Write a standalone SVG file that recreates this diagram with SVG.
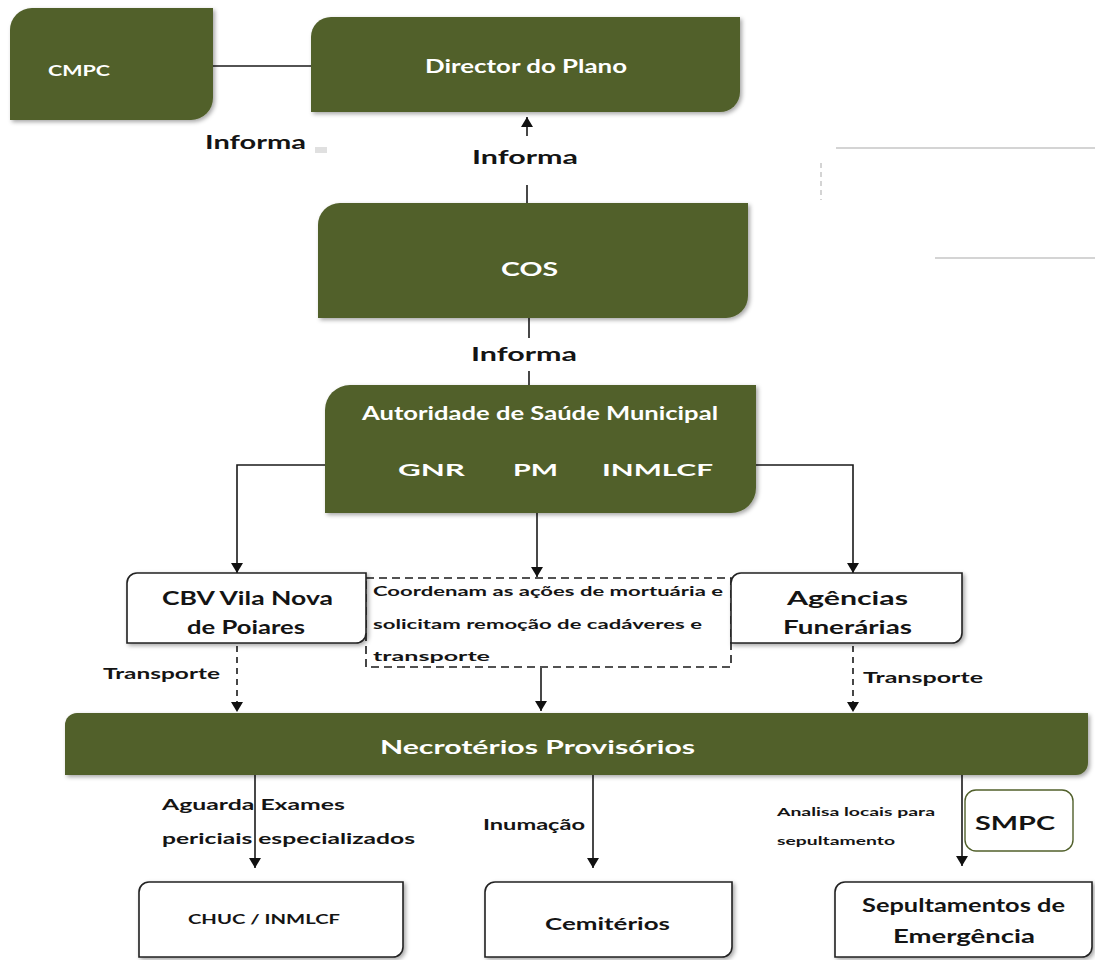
<svg xmlns="http://www.w3.org/2000/svg" width="1095" height="960" viewBox="0 0 1095 960">
  <defs>
    <filter id="shadow" x="-5%" y="-10%" width="110%" height="125%">
      <feDropShadow dx="2" dy="2" stdDeviation="2" flood-color="#000" flood-opacity="0.35"/>
    </filter>
    <marker id="arrow" viewBox="0 0 10 12" refX="10" refY="6" markerWidth="10" markerHeight="12" markerUnits="userSpaceOnUse" orient="auto">
      <path d="M0,0 L10,6 L0,12 Z" fill="#111"/>
    </marker>
  </defs>
  <style>
    .green { fill: #51602b; filter: url(#shadow); }
    .white { fill: #ffffff; stroke: #222; stroke-width: 1.6; filter: url(#shadow); }
    .wt { fill: #ffffff; font-family: Lato, "Open Sans", sans-serif; font-weight: bold; }
    .dk { fill: #141414; font-family: Lato, "Open Sans", sans-serif; font-weight: bold; }
    .ln { stroke: #1a1a1a; stroke-width: 1.6; fill: none; }
    .dash { stroke: #1a1a1a; stroke-width: 1.6; fill: none; stroke-dasharray: 6 5; }
    .faint { stroke: #d4d4d4; stroke-width: 2; fill: none; }
  </style>

  <rect width="1095" height="960" fill="#ffffff"/>

  <!-- faint rules on the right -->
  <g id="rules">
    <line class="faint" x1="836" y1="148" x2="1095" y2="148"/>
    <line class="faint" x1="821" y1="163" x2="821" y2="200" stroke-dasharray="5 4" stroke-width="1"/>
    <line class="faint" x1="935" y1="258" x2="1095" y2="258"/>
    <rect x="315" y="147" width="12" height="6" fill="#e0e0e0"/>
  </g>

  <!-- connectors -->
  <g id="connectors">
    <line class="ln" x1="213" y1="66" x2="311" y2="66"/>
    <line class="ln" x1="527" y1="136" x2="527" y2="117" marker-end="url(#arrow)"/>
    <line class="ln" x1="527" y1="185" x2="527" y2="203"/>
    <line class="ln" x1="529" y1="318" x2="529" y2="338"/>
    <line class="ln" x1="529" y1="371" x2="529" y2="385"/>
    <polyline class="ln" points="325,465 237,465 237,573" marker-end="url(#arrow)"/>
    <line class="ln" x1="537" y1="513" x2="537" y2="577" marker-end="url(#arrow)"/>
    <polyline class="ln" points="756,465 853,465 853,573" marker-end="url(#arrow)"/>
    <line class="dash" x1="237" y1="646" x2="237" y2="712" marker-end="url(#arrow)"/>
    <line class="ln" x1="541" y1="668" x2="541" y2="711" marker-end="url(#arrow)"/>
    <line class="dash" x1="853" y1="646" x2="853" y2="712" marker-end="url(#arrow)"/>
    <line class="ln" x1="255" y1="775" x2="255" y2="868" marker-end="url(#arrow)"/>
    <line class="ln" x1="593" y1="775" x2="593" y2="868" marker-end="url(#arrow)"/>
    <line class="ln" x1="962" y1="775" x2="962" y2="866" marker-end="url(#arrow)"/>
  </g>

  <!-- connector labels -->
  <g id="labels">
    <text class="dk" x="205" y="149" font-size="19" textLength="101" lengthAdjust="spacingAndGlyphs">Informa</text>
    <text class="dk" x="472" y="164" font-size="19" textLength="106" lengthAdjust="spacingAndGlyphs">Informa</text>
    <text class="dk" x="471" y="361" font-size="19" textLength="106" lengthAdjust="spacingAndGlyphs">Informa</text>
    <text class="dk" x="103" y="679" font-size="16" textLength="117" lengthAdjust="spacingAndGlyphs">Transporte</text>
    <text class="dk" x="863" y="683" font-size="16" textLength="120" lengthAdjust="spacingAndGlyphs">Transporte</text>
    <text class="dk" x="162" y="810" font-size="16" textLength="183" lengthAdjust="spacingAndGlyphs">Aguarda Exames</text>
    <text class="dk" x="162" y="844" font-size="16" textLength="253" lengthAdjust="spacingAndGlyphs">periciais especializados</text>
    <text class="dk" x="483" y="830" font-size="16" textLength="102" lengthAdjust="spacingAndGlyphs">Inumação</text>
    <text class="dk" x="777" y="816" font-size="12" textLength="158" lengthAdjust="spacingAndGlyphs">Analisa locais para</text>
    <text class="dk" x="777" y="845" font-size="12" textLength="118" lengthAdjust="spacingAndGlyphs">sepultamento</text>
  </g>

  <!-- green nodes -->
  <g id="cmpc">
    <path class="green" d="M10,30 A22,22 0 0 1 32,8 H213 V98 A22,22 0 0 1 191,120 H10 Z"/>
    <text class="wt" x="48" y="76" font-size="15" textLength="62" lengthAdjust="spacingAndGlyphs">CMPC</text>
  </g>
  <g id="director">
    <path class="green" d="M311,37 A20,20 0 0 1 331,17 H740 V92 A20,20 0 0 1 720,112 H311 Z"/>
    <text class="wt" x="425" y="73" font-size="18" textLength="202" lengthAdjust="spacingAndGlyphs">Director do Plano</text>
  </g>
  <g id="cos">
    <path class="green" d="M318,225 A22,22 0 0 1 340,203 H748 V296 A22,22 0 0 1 726,318 H318 Z"/>
    <text class="wt" x="501" y="276" font-size="18" textLength="57" lengthAdjust="spacingAndGlyphs">COS</text>
  </g>
  <g id="autoridade">
    <path class="green" d="M325,410 A25,25 0 0 1 350,385 H756 V488 A25,25 0 0 1 731,513 H325 Z"/>
    <text class="wt" x="362" y="420" font-size="18" textLength="356" lengthAdjust="spacingAndGlyphs">Autoridade de Saúde Municipal</text>
    <text class="wt" x="398" y="476" font-size="17" textLength="67" lengthAdjust="spacingAndGlyphs">GNR</text>
    <text class="wt" x="513" y="476" font-size="17" textLength="45" lengthAdjust="spacingAndGlyphs">PM</text>
    <text class="wt" x="602" y="476" font-size="17" textLength="111" lengthAdjust="spacingAndGlyphs">INMLCF</text>
  </g>
  <g id="necroterios">
    <path class="green" d="M65,725 A12,12 0 0 1 77,713 H1088 V763 A12,12 0 0 1 1076,775 H65 Z"/>
    <text class="wt" x="380" y="754" font-size="19" textLength="315" lengthAdjust="spacingAndGlyphs">Necrotérios Provisórios</text>
  </g>

  <!-- dashed coordination frame -->
  <g id="coordenam">
    <rect x="366" y="578" width="365" height="89" fill="#ffffff" stroke="#1a1a1a" stroke-width="1.6" stroke-dasharray="8 5"/>
    <text class="dk" x="373" y="596" font-size="13" textLength="350" lengthAdjust="spacingAndGlyphs">Coordenam as ações de mortuária e</text>
    <text class="dk" x="373" y="629" font-size="13" textLength="329" lengthAdjust="spacingAndGlyphs">solicitam remoção de cadáveres e</text>
    <text class="dk" x="373" y="661" font-size="13" textLength="117" lengthAdjust="spacingAndGlyphs">transporte</text>
  </g>

  <!-- white nodes -->
  <g id="cbv">
    <path class="white" d="M127,583 A10,10 0 0 1 137,573 H366 V633 A10,10 0 0 1 356,643 H127 Z"/>
    <text class="dk" x="162" y="605" font-size="18" textLength="171" lengthAdjust="spacingAndGlyphs">CBV Vila Nova</text>
    <text class="dk" x="187" y="634" font-size="18" textLength="118" lengthAdjust="spacingAndGlyphs">de Poiares</text>
  </g>
  <g id="agencias">
    <path class="white" d="M731,583 A10,10 0 0 1 741,573 H962 V633 A10,10 0 0 1 952,643 H731 Z"/>
    <text class="dk" x="787" y="605" font-size="18" textLength="121" lengthAdjust="spacingAndGlyphs">Agências</text>
    <text class="dk" x="783" y="634" font-size="18" textLength="129" lengthAdjust="spacingAndGlyphs">Funerárias</text>
  </g>
  <g id="smpc">
    <rect x="965" y="790" width="108" height="61" rx="11" fill="#ffffff" stroke="#51602b" stroke-width="1.4"/>
    <text class="dk" x="975" y="830" font-size="18" textLength="80" lengthAdjust="spacingAndGlyphs">SMPC</text>
  </g>
  <g id="chuc">
    <path class="white" d="M139,892 A10,10 0 0 1 149,882 H403 V947 A10,10 0 0 1 393,957 H139 Z"/>
    <text class="dk" x="188" y="924" font-size="13" textLength="152" lengthAdjust="spacingAndGlyphs">CHUC / INMLCF</text>
  </g>
  <g id="cemiterios">
    <path class="white" d="M485,892 A10,10 0 0 1 495,882 H732 V947 A10,10 0 0 1 722,957 H485 Z"/>
    <text class="dk" x="545" y="930" font-size="17" textLength="125" lengthAdjust="spacingAndGlyphs">Cemitérios</text>
  </g>
  <g id="sepultamentos">
    <path class="white" d="M835,892 A10,10 0 0 1 845,882 H1092 V947 A10,10 0 0 1 1082,957 H835 Z"/>
    <text class="dk" x="862" y="912" font-size="18" textLength="203" lengthAdjust="spacingAndGlyphs">Sepultamentos de</text>
    <text class="dk" x="893" y="943" font-size="18" textLength="142" lengthAdjust="spacingAndGlyphs">Emergência</text>
  </g>
</svg>
